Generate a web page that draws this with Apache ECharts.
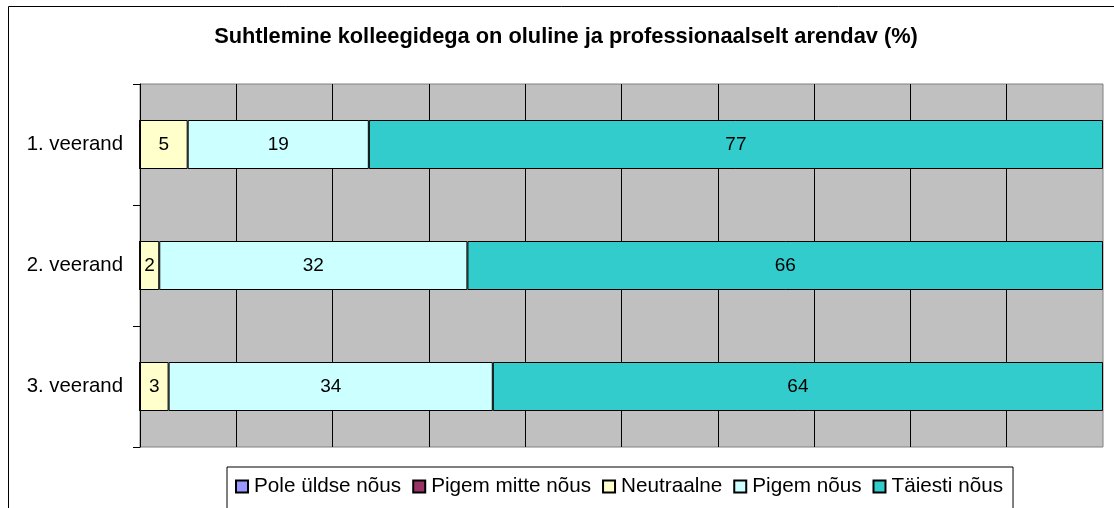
<!DOCTYPE html>
<html>
<head>
<meta charset="utf-8">
<script src="https://cdn.jsdelivr.net/npm/echarts@6/dist/echarts.min.js"></script>
<style>
  html, body { margin: 0; padding: 0; background: #fff; }
  #chart { width: 1114px; height: 508px; }
</style>
</head>
<body>
<div id="chart"></div>
<script>
var quarters = ["1. veerand", "2. veerand", "3. veerand"];
var seriesNames = ["Pole üldse nõus", "Pigem mitte nõus", "Neutraalne", "Pigem nõus", "Täiesti nõus"];
var seriesColors = ["#9999FF", "#993366", "#FFFFCC", "#CCFFFF", "#33CCCC"];

var poleYldse = [0, 0, 0];
var pigemMitte = [0, 0, 0];
var neutraalne = [5, 2, 3];
var pigemNous = [19, 32, 34];
var taiestiNous = [77, 66, 64];

var allValues = [poleYldse, pigemMitte, neutraalne, pigemNous, taiestiNous];

// row totals, bars are drawn as share of the row (100% stacked)
var totals = quarters.map(function (q, i) {
  return allValues.reduce(function (s, arr) { return s + arr[i]; }, 0);
});

var FONT = "Liberation Sans, Arial, sans-serif";

var series = seriesNames.map(function (name, k) {
  return {
    name: name,
    type: "bar",
    stack: "total",
    barWidth: 49,
    itemStyle: { color: seriesColors[k], borderColor: "#000", borderWidth: 1 },
    label: {
      show: true,
      position: "inside",
      color: "#000",
      fontFamily: FONT,
      fontSize: 19,
      formatter: function (p) {
        var raw = allValues[k][p.dataIndex];
        return raw > 0 ? String(raw) : "";
      }
    },
    emphasis: { disabled: true },
    data: allValues[k].map(function (v, i) { return v / totals[i] * 100; })
  };
});

var myChart = echarts.init(document.getElementById("chart"));
myChart.setOption({
  animation: false,
  backgroundColor: "#fff",
  textStyle: { fontFamily: FONT },
  title: {
    text: "Suhtlemine kolleegidega on oluline ja professionaalselt arendav (%)",
    left: 561,
    textAlign: "center",
    top: 21,
    textStyle: { fontFamily: FONT, fontSize: 21.8, fontWeight: "bold", color: "#000" }
  },
  graphic: [{
    type: "rect",
    shape: { x: 8.5, y: 6.5, width: 1130, height: 530 },
    style: { fill: "none", stroke: "#000", lineWidth: 1 },
    z: 100
  }],
  legend: {
    left: 227,
    top: 467,
    padding: [9, 10, 12, 8],
    borderColor: "#000",
    borderWidth: 1,
    itemWidth: 12,
    itemHeight: 12,
    itemGap: 11,
    icon: "rect",
    textStyle: { fontFamily: FONT, fontSize: 20.7, color: "#000", padding: [0, 0, 0, 1] },
    data: seriesNames
  },
  grid: {
    left: 140,
    right: 11,
    top: 84,
    bottom: 61,
    show: true,
    backgroundColor: "#C0C0C0",
    borderColor: "#808080",
    borderWidth: 1
  },
  xAxis: {
    type: "value",
    min: 0,
    max: 100,
    interval: 10,
    axisLabel: { show: false },
    axisLine: { show: false },
    axisTick: { show: false },
    splitLine: { show: true, showMinLine: false, showMaxLine: false, lineStyle: { color: "#000", width: 1 } }
  },
  yAxis: {
    type: "category",
    inverse: true,
    data: quarters,
    axisLine: { show: true, lineStyle: { color: "#000", width: 1 } },
    axisTick: { show: true, length: 7, lineStyle: { color: "#000" } },
    axisLabel: { fontFamily: FONT, fontSize: 20.4, color: "#000", margin: 17 }
  },
  series: series
});

window.addEventListener("resize", function () { myChart.resize(); });
</script>
</body>
</html>
